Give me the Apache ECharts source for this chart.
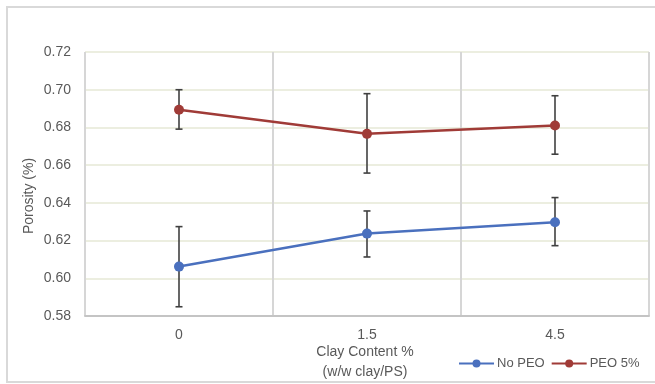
<!DOCTYPE html>
<html>
<head>
<meta charset="utf-8">
<script src="https://cdn.jsdelivr.net/npm/echarts@6/dist/echarts.min.js"></script>
<style>
  html, body { margin: 0; padding: 0; background: #fff; }
  #chart { width: 655px; height: 384px; }
</style>
</head>
<body>
<div id="chart"></div>
<script>
// Clay content categories (x axis)
const categories = ['0', '1.5', '4.5'];

// Mean porosity per series
const noPeo = [0.6062, 0.6237, 0.6297];
const peo5 = [0.6894, 0.6766, 0.6810];

// Error bar bounds (lower / upper)
const noPeoLow = [0.5849, 0.6113, 0.6173];
const noPeoHigh = [0.6274, 0.6357, 0.6428];
const peo5Low = [0.6791, 0.6558, 0.6658];
const peo5High = [0.7000, 0.6979, 0.6968];

// Value axis ticks
const yMin = 0.58, yMax = 0.72, yStep = 0.02;

const FONT = 'Liberation Sans';
const TEXT = '#595959';
const BLUE = '#4a70be';
const RED = '#a03b37';

function errorData(low, high) {
  return categories.map((c, i) => [i, low[i], high[i]]);
}

function renderErrorBar(params, api) {
  const x = api.value(0);
  const lo = api.coord([x, api.value(1)]);
  const hi = api.coord([x, api.value(2)]);
  const cap = 3.5;
  const style = { stroke: '#404040', lineWidth: 1.6 };
  return {
    type: 'group',
    children: [
      { type: 'line', shape: { x1: hi[0], y1: hi[1], x2: lo[0], y2: lo[1] }, style },
      { type: 'line', shape: { x1: hi[0] - cap, y1: hi[1], x2: hi[0] + cap, y2: hi[1] }, style },
      { type: 'line', shape: { x1: lo[0] - cap, y1: lo[1], x2: lo[0] + cap, y2: lo[1] }, style }
    ]
  };
}

const chart = echarts.init(document.getElementById('chart'), null, { renderer: 'canvas' });

chart.setOption({
  animation: false,
  backgroundColor: '#ffffff',
  textStyle: { fontFamily: FONT },
  grid: { left: 85, right: 6, top: 52, bottom: 68, containLabel: false },
  xAxis: {
    type: 'category',
    data: categories,
    boundaryGap: true,
    axisLine: { show: true, lineStyle: { color: '#c4c4c4', width: 2 } },
    axisTick: { show: false },
    axisLabel: { color: TEXT, fontSize: 14, fontFamily: FONT, margin: 12 },
    splitLine: { show: true, lineStyle: { color: '#d6d6d6', width: 2 } }
  },
  yAxis: {
    type: 'value',
    min: yMin,
    max: yMax,
    interval: yStep,
    axisLine: { show: false },
    axisTick: { show: false },
    axisLabel: {
      color: TEXT, fontSize: 14, fontFamily: FONT, margin: 14,
      formatter: v => v.toFixed(2)
    },
    splitLine: { show: true, lineStyle: { color: '#e6e8d6', width: 1.5 } }
  },
  legend: {
    left: 453,
    top: 352,
    itemWidth: 35,
    itemHeight: 10,
    itemGap: 6,
    textStyle: { color: TEXT, fontSize: 13, fontFamily: FONT, padding: [0, 0, 0, -2] },
    data: ['No PEO', 'PEO 5%']
  },
  graphic: [
    {
      type: 'rect',
      shape: { x: 7, y: 7, width: 660, height: 375 },
      style: { fill: 'none', stroke: '#d9d9d9', lineWidth: 2 },
      silent: true
    },
    {
      type: 'text',
      x: 29, y: 196,
      rotation: Math.PI / 2,
      style: {
        text: 'Porosity (%)', fill: TEXT, fontSize: 14, fontFamily: FONT,
        align: 'center', verticalAlign: 'middle'
      }
    },
    {
      type: 'text',
      x: 365, y: 362,
      style: {
        text: 'Clay Content %\n(w/w clay/PS)', fill: TEXT, fontSize: 14, fontFamily: FONT,
        align: 'center', verticalAlign: 'middle', lineHeight: 20
      }
    }
  ],
  series: [
    {
      type: 'custom',
      name: 'noPeoErr',
      renderItem: renderErrorBar,
      data: errorData(noPeoLow, noPeoHigh),
      encode: { x: 0, y: [1, 2] },
      z: 2,
      silent: true
    },
    {
      type: 'custom',
      name: 'peo5Err',
      renderItem: renderErrorBar,
      data: errorData(peo5Low, peo5High),
      encode: { x: 0, y: [1, 2] },
      z: 2,
      silent: true
    },
    {
      name: 'No PEO',
      type: 'line',
      data: noPeo,
      symbol: 'circle',
      symbolSize: 10,
      lineStyle: { color: BLUE, width: 2.5 },
      itemStyle: { color: BLUE },
      z: 3
    },
    {
      name: 'PEO 5%',
      type: 'line',
      data: peo5,
      symbol: 'circle',
      symbolSize: 10,
      lineStyle: { color: RED, width: 2.5 },
      itemStyle: { color: RED },
      z: 3
    }
  ]
});
</script>
</body>
</html>
